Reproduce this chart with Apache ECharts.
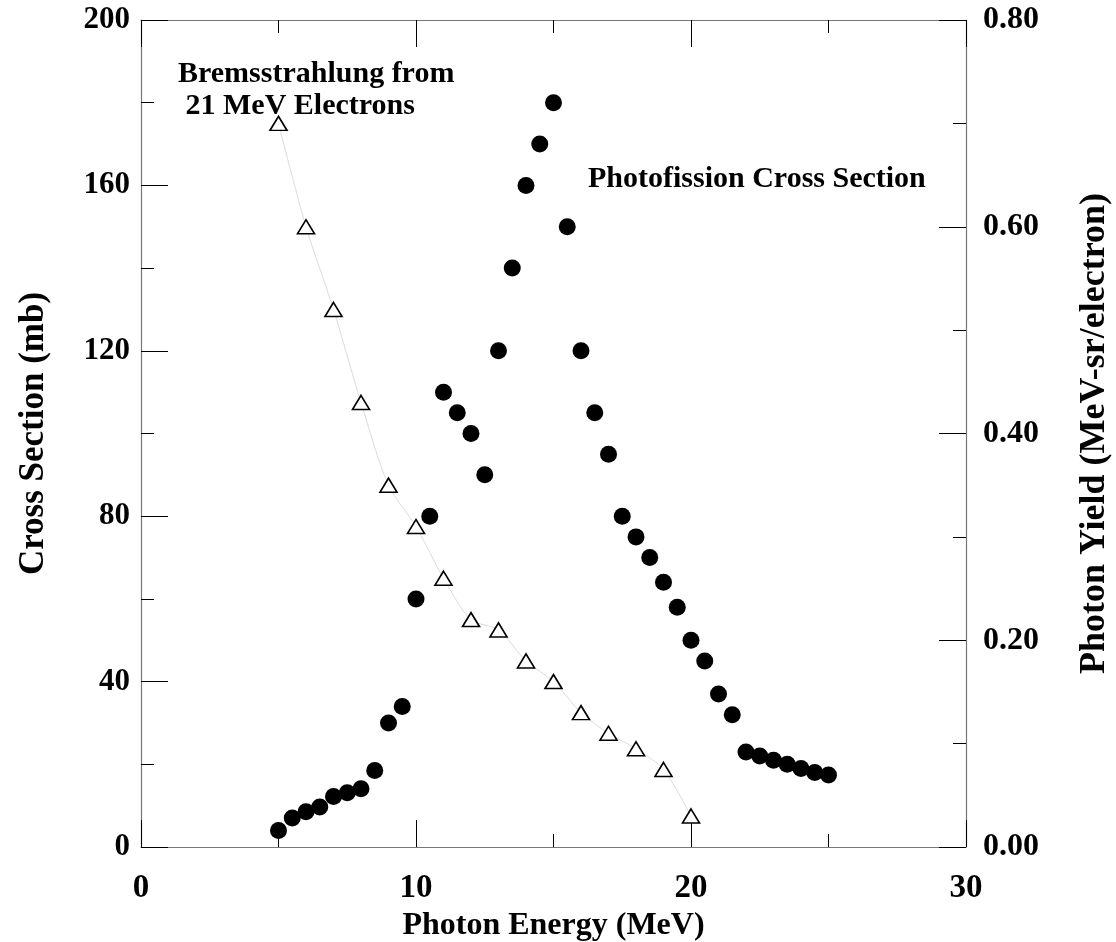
<!DOCTYPE html>
<html>
<head>
<meta charset="utf-8">
<script src="https://cdn.jsdelivr.net/npm/echarts@6/dist/echarts.min.js"></script>
<style>
  html, body { margin: 0; padding: 0; background: #fff; }
  #chart { width: 1116px; height: 942px; }
</style>
</head>
<body>
<div id="chart"></div>
<script>
// Photofission cross section (mb), filled circles, left axis
const csEnergy = [5, 5.5, 6, 6.5, 7, 7.5, 8, 8.5, 9, 9.5, 10, 10.5, 11, 11.5, 12, 12.5,
  13, 13.5, 14, 14.5, 15, 15.5, 16, 16.5, 17, 17.5, 18, 18.5, 19, 19.5, 20, 20.5,
  21, 21.5, 22, 22.5, 23, 23.5, 24, 24.5, 25];
const csValue = [4, 7, 8.5, 9.7, 12.2, 13.1, 14.1, 18.5, 30, 34, 60, 80, 110, 105, 100, 90,
  120, 140, 160, 170, 180, 150, 120, 105, 95, 80, 75, 70, 64, 58, 50, 45,
  37, 32, 23, 22, 21, 20, 19, 18, 17.4];

// Bremsstrahlung photon yield (MeV-sr/electron), open triangles, right axis
const yieldEnergy = [5, 6, 7, 8, 9, 10, 11, 12, 13, 14, 15, 16, 17, 18, 19, 20];
const yieldValue = [0.70, 0.60, 0.52, 0.43, 0.35, 0.31, 0.26, 0.22, 0.21, 0.18, 0.16,
  0.13, 0.11, 0.095, 0.075, 0.03];

const xTitle = 'Photon Energy (MeV)';
const yLeftTitle = 'Cross Section (mb)';
const yRightTitle = 'Photon Yield (MeV-sr/electron)';

const FONT = '"Liberation Serif", "Times New Roman", serif';
const frameColor = '#777';

function tickStyle(len) {
  return { show: true, inside: true, length: len, lineStyle: { color: '#000', width: 1 } };
}
function minorStyle(len) {
  return { show: true, splitNumber: 2, length: len, lineStyle: { color: '#000', width: 1 } };
}
const axisLine = { show: true, onZero: false, lineStyle: { color: frameColor, width: 1.2 } };

const chart = echarts.init(document.getElementById('chart'), null, { renderer: 'canvas' });

chart.setOption({
  animation: false,
  backgroundColor: '#fff',
  grid: {
    left: 141, right: 150, top: 20, bottom: 95,
    containLabel: false, outerBoundsMode: 'none'
  },
  xAxis: [
    {
      type: 'value', position: 'bottom', min: 0, max: 30, interval: 10,
      axisLine: axisLine,
      axisTick: tickStyle(27), minorTick: minorStyle(13),
      splitLine: { show: false },
      axisLabel: { fontFamily: FONT, fontWeight: 'bold', fontSize: 33, color: '#000', margin: 25 },
      name: xTitle, nameLocation: 'middle', nameGap: 63,
      nameTextStyle: { fontFamily: FONT, fontWeight: 'bold', fontSize: 32, color: '#000' }
    },
    {
      type: 'value', position: 'top', min: 0, max: 30, interval: 10,
      axisLine: axisLine,
      axisTick: tickStyle(27), minorTick: minorStyle(13),
      splitLine: { show: false },
      axisLabel: { show: false }
    }
  ],
  yAxis: [
    {
      type: 'value', position: 'left', min: 0, max: 200, interval: 40,
      axisLine: axisLine,
      axisTick: tickStyle(27), minorTick: minorStyle(13),
      splitLine: { show: false },
      axisLabel: { fontFamily: FONT, fontWeight: 'bold', fontSize: 31, color: '#000', margin: 11 },
      name: yLeftTitle, nameLocation: 'middle', nameRotate: 90, nameGap: 90,
      nameTextStyle: { fontFamily: FONT, fontWeight: 'bold', fontSize: 35, color: '#000' }
    },
    {
      type: 'value', position: 'right', min: 0, max: 0.8, interval: 0.2,
      axisLine: axisLine,
      axisTick: tickStyle(27), minorTick: minorStyle(13),
      splitLine: { show: false },
      axisLabel: {
        fontFamily: FONT, fontWeight: 'bold', fontSize: 32, color: '#000', margin: 17,
        formatter: v => v.toFixed(2)
      },
      name: yRightTitle, nameLocation: 'middle', nameRotate: 90, nameGap: 111,
      nameTextStyle: { fontFamily: FONT, fontWeight: 'bold', fontSize: 36, color: '#000' }
    }
  ],
  graphic: [
    {
      type: 'text', left: 178, top: 58,
      style: {
        text: 'Bremsstrahlung from\n 21 MeV Electrons',
        font: 'bold 30px ' + FONT, fill: '#000', lineHeight: 32
      }
    },
    {
      type: 'text', left: 588, top: 164,
      style: { text: 'Photofission Cross Section', font: 'bold 30px ' + FONT, fill: '#000' }
    }
  ],
  series: [
    {
      type: 'line', xAxisIndex: 0, yAxisIndex: 1, smooth: 0.3,
      data: yieldEnergy.map((e, i) => [e, yieldValue[i]]),
      lineStyle: { color: '#dcdcdc', width: 1 },
      symbol: 'triangle', symbolSize: [17, 14],
      itemStyle: { color: '#fff', borderColor: '#000', borderWidth: 1.6, opacity: 1 },
      z: 3
    },
    {
      type: 'scatter', xAxisIndex: 0, yAxisIndex: 0,
      data: csEnergy.map((e, i) => [e, csValue[i]]),
      symbol: 'circle', symbolSize: 17,
      itemStyle: { color: '#000', opacity: 1 },
      z: 4
    }
  ]
});
</script>
</body>
</html>
